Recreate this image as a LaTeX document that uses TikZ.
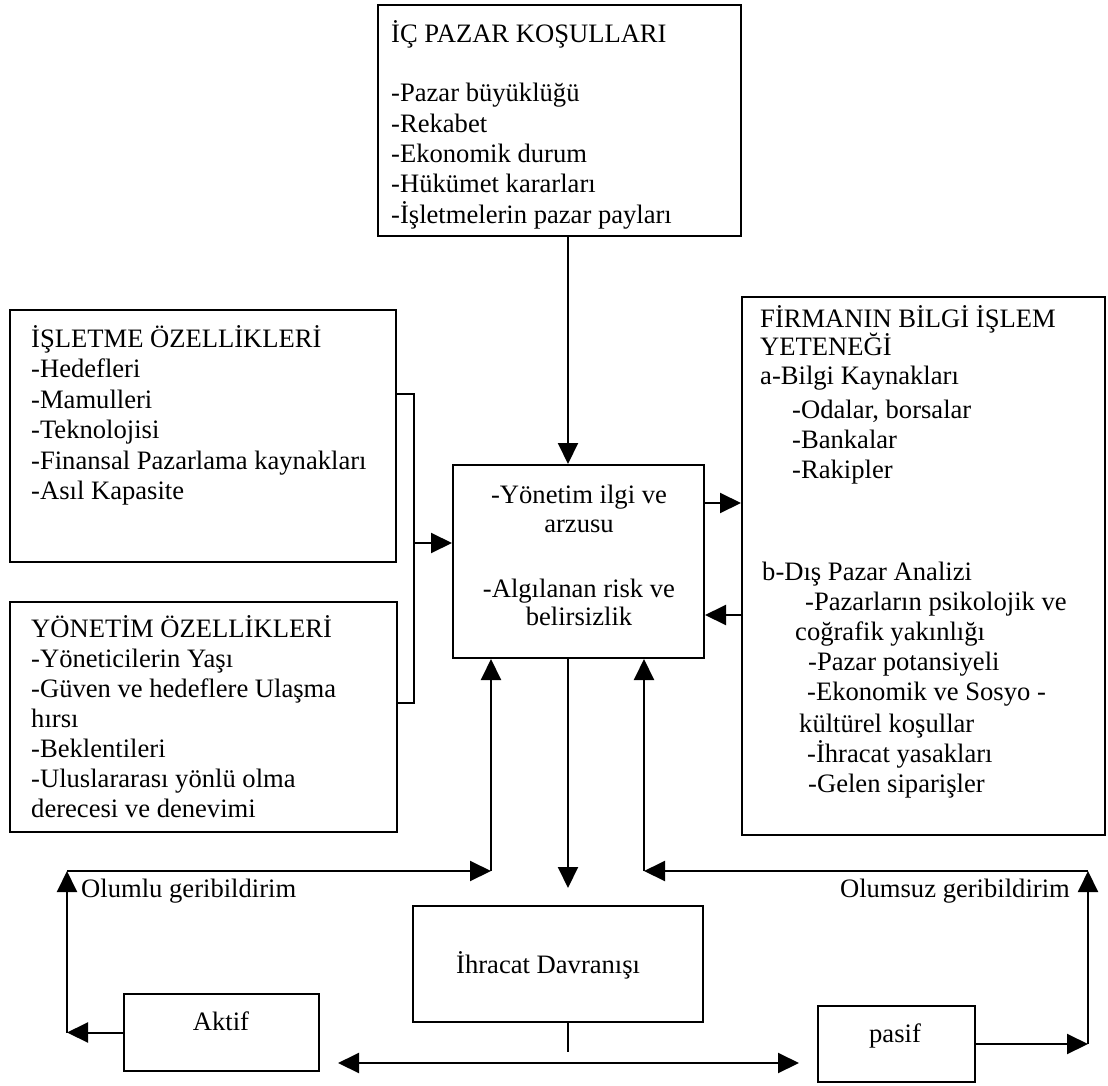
\documentclass[tikz,border=0pt]{standalone}
\usepackage{fontspec}
\setmainfont{Liberation Serif}
\usetikzlibrary{arrows.meta}
\begin{document}
\begin{tikzpicture}[x=1pt,y=-1pt,
  box/.style={draw,line width=2pt,inner sep=0pt},
  ln/.style={line width=2pt},
  arr/.style={line width=2pt,-{Triangle[length=21pt,width=20pt]}},
  arrr/.style={line width=2pt,{Triangle[length=21pt,width=20pt]}-{Triangle[length=21pt,width=20pt]}},
  txt/.style={anchor=base west,inner sep=0pt,font=\fontsize{26.6}{30.5}\selectfont},
  ctxt/.style={anchor=base,inner sep=0pt,font=\fontsize{26.6}{30.5}\selectfont}]
\useasboundingbox (0,0) rectangle (1108,1086);
% boxes
\node[box,minimum width=363pt,minimum height=231pt] (top) at (559.5,120.5) {};
\node[box,minimum width=251pt,minimum height=193pt] (cen) at (578.5,561.5) {};
\node[box,minimum width=386pt,minimum height=252pt] (lb1) at (203,436) {};
\node[box,minimum width=387pt,minimum height=230pt] (lb2) at (203.5,717) {};
\node[box,minimum width=363pt,minimum height=538pt] (rb) at (923.5,566) {};
\node[box,minimum width=290pt,minimum height=116pt] (ihr) at (558,964) {};
\node[box,minimum width=195pt,minimum height=77pt] (aktif) at (221.5,1032.5) {};
\node[box,minimum width=157pt,minimum height=76pt] (pasif) at (896.5,1044) {};
% top box text
\node[txt] (t0) at (391,43) {İÇ PAZAR KOŞULLARI};
\node[txt] (t1) at (391,102) {-Pazar büyüklüğü};
\node[txt] (t2) at (391,132.5) {-Rekabet};
\node[txt] (t3) at (391,163) {-Ekonomik durum};
\node[txt] (t4) at (391,193) {-Hükümet kararları};
\node[txt] (t5) at (391,223.5) {-İşletmelerin pazar payları};
% left box 1
\node[txt] (a0) at (31,347) {İŞLETME ÖZELLİKLERİ};
\node[txt] (a1) at (31,377.5) {-Hedefleri};
\node[txt] (a2) at (31,408) {-Mamulleri};
\node[txt] (a3) at (31,438.5) {-Teknolojisi};
\node[txt] (a4) at (31,469) {-Finansal Pazarlama kaynakları};
\node[txt] (a5) at (31,499.5) {-Asıl Kapasite};
% left box 2
\node[txt] (b0) at (31,637) {YÖNETİM ÖZELLİKLERİ};
\node[txt] (b1) at (31,667) {-Yöneticilerin Yaşı};
\node[txt] (b2) at (31,697) {-Güven ve hedeflere Ulaşma};
\node[txt] (b3) at (31,727) {hırsı};
\node[txt] (b4) at (31,757) {-Beklentileri};
\node[txt] (b5) at (31,787) {-Uluslararası yönlü olma};
\node[txt] (b6) at (31,817) {derecesi ve denevimi};
% center box
\node[ctxt] (c1) at (579,503) {-Yönetim ilgi ve};
\node[ctxt] (c2) at (579,532) {arzusu};
\node[ctxt] (c3) at (579,597) {-Algılanan risk ve};
\node[ctxt] (c4) at (579,625) {belirsizlik};
% right box
\node[txt] (r0) at (760,327) {FİRMANIN BİLGİ İŞLEM};
\node[txt] (r1) at (760,355) {YETENEĞİ};
\node[txt] (r2) at (760,384) {a-Bilgi Kaynakları};
\node[txt] (r3) at (792,418) {-Odalar, borsalar};
\node[txt] (r4) at (792,448) {-Bankalar};
\node[txt] (r5) at (792,478) {-Rakipler};
\node[txt] (r6) at (762,580) {b-Dış Pazar Analizi};
\node[txt] (r7) at (805,610) {-Pazarların psikolojik ve};
\node[txt] (r8) at (795,640) {coğrafik yakınlığı};
\node[txt] (r9) at (808,670) {-Pazar potansiyeli};
\node[txt] (r10) at (807,700) {-Ekonomik ve Sosyo -};
\node[txt] (r11) at (799,732) {kültürel koşullar};
\node[txt] (r12) at (807,762) {-İhracat yasakları};
\node[txt] (r13) at (808,792) {-Gelen siparişler};
% bottom texts
\node[txt] (ih) at (456,973) {İhracat Davranışı};
\node[ctxt] (ak) at (221,1030) {Aktif};
\node[ctxt] (pa) at (895,1042) {pasif};
\node[txt] (ol) at (81,897) {Olumlu geribildirim};
\node[txt,anchor=base east] (os) at (1070,897) {Olumsuz geribildirim};
% coordinates
\coordinate (bra) at (414,543);
\coordinate (lc) at (67,871);
\coordinate (rc) at (1088,871);
% connectors
\draw[arr] (top.south -| 568,0) -- (cen.north -| 568,0);
\draw[ln] (lb1.east |- 0,394) -- (bra |- 0,394) -- (bra |- 0,703) -- (lb2.east |- 0,703);
\draw[arr] (bra) -- (bra -| cen.west);
\draw[arr] (cen.east |- 0,503) -- (rb.west |- 0,503);
\draw[arr] (rb.west |- 0,615) -- (cen.east |- 0,615);
\draw[arr] (cen.south -| 568,0) -- (568,888);
\draw[arr] (aktif.west) -- (aktif.west -| lc);
\draw[arr] (aktif.west -| lc) -- (lc);
\draw[arr] (lc) -- (491,871);
\draw[arr] (491,871) -- (cen.south -| 491,0);
\draw[arr] (pasif.east) -- (pasif.east -| rc);
\draw[arr] (pasif.east -| rc) -- (rc);
\draw[arr] (rc) -- (644,871);
\draw[arr] (644,871) -- (cen.south -| 644,0);
\draw[ln] (ihr.south -| 568,0) -- (568,1052);
\draw[arrr] (338,1063) -- (799,1063);
\end{tikzpicture}
\end{document}
